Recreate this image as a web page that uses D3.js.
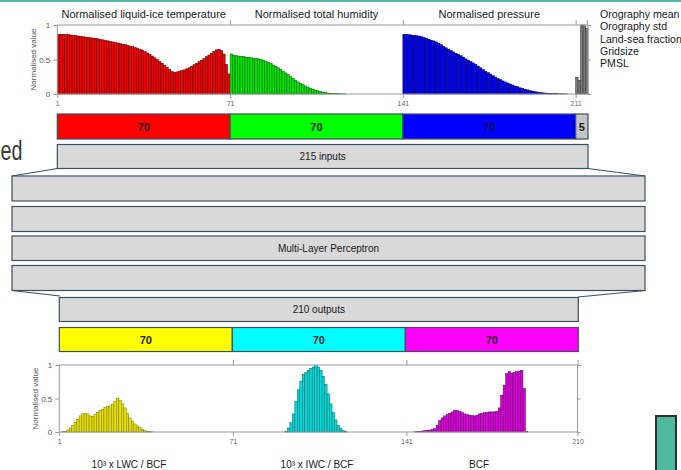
<!DOCTYPE html>
<html>
<head>
<meta charset="utf-8">
<script src="https://cdn.jsdelivr.net/npm/d3@7"></script>
<style>
  html, body { margin: 0; padding: 0; background: #ffffff; }
  svg { display: block; }
  text { font-family: "Liberation Sans", Arial, sans-serif; }
</style>
</head>
<body>
<svg id="fig" width="681" height="470"></svg>
<script>
// ---- Input features (index 1..215) ----
const inputTitles = ["Normalised liquid-ice temperature", "Normalised total humidity", "Normalised pressure"];
const extraInputNames = ["Orography mean", "Orography std", "Land-sea fraction", "Gridsize", "PMSL"];

const temperature = [
  0.865, 0.865, 0.864, 0.862, 0.86, 0.855, 0.85, 0.845, 0.84, 0.835,
  0.83, 0.825, 0.82, 0.815, 0.81, 0.805, 0.80, 0.79, 0.785, 0.775,
  0.77, 0.76, 0.755, 0.745, 0.74, 0.73, 0.72, 0.715, 0.705, 0.695,
  0.685, 0.675, 0.66, 0.65, 0.635, 0.615, 0.595, 0.575, 0.55, 0.525,
  0.50, 0.47, 0.445, 0.415, 0.385, 0.355, 0.325, 0.31, 0.32, 0.33,
  0.34, 0.35, 0.365, 0.38, 0.40, 0.425, 0.445, 0.47, 0.49, 0.515,
  0.54, 0.565, 0.59, 0.62, 0.64, 0.645, 0.63, 0.58, 0.43, 0.29
];
const humidity = [
  0.58, 0.565, 0.555, 0.55, 0.545, 0.54, 0.535, 0.53, 0.525, 0.52,
  0.515, 0.51, 0.50, 0.49, 0.475, 0.46, 0.44, 0.42, 0.40, 0.38,
  0.355, 0.33, 0.305, 0.28, 0.25, 0.225, 0.20, 0.175, 0.155, 0.135,
  0.115, 0.10, 0.085, 0.07, 0.058, 0.047, 0.037, 0.028, 0.021, 0.015,
  0.011, 0.008, 0.006, 0.004, 0.003, 0.002, 0.001, 0, 0, 0,
  0, 0, 0, 0, 0, 0, 0, 0, 0, 0,
  0, 0, 0, 0, 0, 0, 0, 0, 0, 0
];
const pressure = [
  0.865, 0.863, 0.86, 0.855, 0.85, 0.845, 0.84, 0.83, 0.82, 0.81,
  0.795, 0.78, 0.77, 0.755, 0.735, 0.715, 0.69, 0.67, 0.65, 0.63,
  0.61, 0.59, 0.575, 0.555, 0.535, 0.51, 0.49, 0.47, 0.45, 0.43,
  0.405, 0.38, 0.355, 0.33, 0.31, 0.29, 0.265, 0.245, 0.225, 0.21,
  0.19, 0.175, 0.16, 0.145, 0.13, 0.115, 0.105, 0.09, 0.08, 0.07,
  0.06, 0.05, 0.042, 0.035, 0.028, 0.023, 0.018, 0.015, 0.012, 0.009,
  0.007, 0.005, 0.004, 0.003, 0.002, 0.001, 0.001, 0, 0, 0
];
const surfaceInputs = [0.24, 0.20, 1.0, 1.0, 0.95];

const inputTicks = [1, 71, 141, 211];
const inputBlockSizes = [70, 70, 70, 5];

// ---- Output profiles (index 1..210) ----
const outputTitles = ["10³ x LWC / BCF", "10³ x IWC / BCF", "BCF"];
const liquidWater = [
  0, 0.005, 0.01, 0.03, 0.06, 0.10, 0.14, 0.19, 0.24, 0.27,
  0.28, 0.27, 0.24, 0.23, 0.26, 0.29, 0.32, 0.34, 0.37, 0.38,
  0.39, 0.41, 0.46, 0.50, 0.47, 0.42, 0.36, 0.28, 0.21, 0.16,
  0.12, 0.09, 0.07, 0.04, 0.02, 0.01, 0.005, 0.003, 0, 0,
  0, 0, 0, 0, 0, 0, 0, 0, 0, 0,
  0, 0, 0, 0, 0, 0, 0, 0, 0, 0,
  0, 0, 0, 0, 0, 0, 0, 0, 0, 0
];
const iceWater = [
  0, 0, 0, 0, 0, 0, 0, 0, 0, 0,
  0, 0, 0, 0, 0, 0, 0, 0, 0, 0,
  0, 0.01, 0.06, 0.14, 0.27, 0.46, 0.63, 0.76, 0.86, 0.89,
  0.92, 0.95, 0.97, 0.99, 0.97, 0.92, 0.83, 0.71, 0.57, 0.42,
  0.29, 0.18, 0.10, 0.05, 0.02, 0.005, 0, 0, 0, 0,
  0, 0, 0, 0, 0, 0, 0, 0, 0, 0,
  0, 0, 0, 0, 0, 0, 0, 0, 0, 0
];
const cloudFraction = [
  0, 0, 0, 0.003, 0.005, 0.01, 0.015, 0.02, 0.025, 0.03,
  0.035, 0.05, 0.10, 0.17, 0.21, 0.24, 0.26, 0.28, 0.30, 0.32,
  0.32, 0.31, 0.29, 0.27, 0.26, 0.25, 0.245, 0.24, 0.25, 0.27,
  0.28, 0.29, 0.29, 0.30, 0.30, 0.30, 0.31, 0.36, 0.55, 0.70,
  0.87, 0.90, 0.88, 0.89, 0.90, 0.91, 0.92, 0.65, 0.01, 0,
  0, 0, 0, 0, 0, 0, 0, 0, 0, 0,
  0, 0, 0, 0, 0, 0, 0, 0, 0, 0
];
const outputTicks = [1, 71, 141, 210];
const outputBlockSizes = [70, 70, 70];

const yTicks = [0, 0.5, 1];
const inputLabel = "215 inputs";
const hiddenLabel = "Multi-Layer Perceptron";
const outputLabel = "210 outputs";

// ---------------------------------------------------------------
const svg = d3.select("#fig");
const boxStroke = "#3f4f5f";
const boxFill = "#d9d9d9";

// slide decoration
svg.append("rect").attr("x", 0).attr("y", 0).attr("width", 681).attr("height", 2).attr("fill", "#55b9a2");
svg.append("text").attr("x", 0.5).attr("y", 160).attr("text-anchor", "start")
  .attr("font-size", 28).attr("fill", "#3a3a3a")
  .attr("textLength", 22).attr("lengthAdjust", "spacingAndGlyphs").text("ed");
svg.append("rect").attr("x", 656).attr("y", 416).attr("width", 20).attr("height", 60)
  .attr("fill", "#4fb89f").attr("stroke", "#2e2e2e").attr("stroke-width", 2);

// generic profile chart
function profileChart(opts) {
  const g = svg.append("g");
  const x = d3.scaleLinear().domain(opts.domain).range([opts.x0, opts.x1]);
  const y = d3.scaleLinear().domain([0, 1]).range([opts.yBottom, opts.yTop]);

  // bars
  opts.series.forEach(s => {
    g.append("g").selectAll("rect")
      .data(s.values.map((v, k) => ({ i: s.start + k, v })))
      .join("rect")
      .attr("x", d => x(d.i))
      .attr("width", d => x(d.i + 1) - x(d.i))
      .attr("y", d => y(d.v))
      .attr("height", d => y(0) - y(d.v))
      .attr("fill", s.fill)
      .attr("stroke", s.stroke)
      .attr("stroke-width", 0.5);
  });

  const axisColor = "#9a9a9a";
  // frame
  g.append("rect").attr("x", opts.x0).attr("y", opts.yTop)
    .attr("width", opts.x1 - opts.x0).attr("height", opts.yBottom - opts.yTop)
    .attr("fill", "none").attr("stroke", axisColor).attr("stroke-width", 1);

  const tickStyle = sel => {
    sel.select(".domain").remove();
    sel.selectAll("line").attr("stroke", axisColor);
    sel.selectAll("text").attr("fill", "#666").attr("font-size", 7)
      .attr("font-family", "DejaVu Serif, serif");
  };

  const bottomAxis = d3.axisBottom(x).tickValues(opts.ticks).tickFormat(d3.format("d")).tickSize(4).tickPadding(3);
  g.append("g").attr("transform", `translate(0,${opts.yBottom})`).call(bottomAxis).call(tickStyle);
  const topAxis = d3.axisTop(x).tickValues(opts.topTicks).tickFormat("").tickSize(5);
  g.append("g").attr("transform", `translate(0,${opts.yTop})`).call(topAxis).call(tickStyle);

  const leftAxis = d3.axisLeft(y).tickValues(yTicks).tickFormat(d => d === 0.5 ? "0.5" : d3.format("d")(d)).tickSize(4).tickPadding(3);
  g.append("g").attr("transform", `translate(${opts.x0},0)`).call(leftAxis).call(s => {
    tickStyle(s);
    s.selectAll("text").attr("font-size", 8).attr("font-family", "Liberation Sans, Arial, sans-serif").attr("fill", "#555");
  });
  const rightAxis = d3.axisRight(y).tickValues(yTicks).tickFormat("").tickSize(3);
  g.append("g").attr("transform", `translate(${opts.x1},0)`).call(rightAxis).call(tickStyle);

  g.append("text")
    .attr("transform", `translate(${opts.x0 - 21},${(opts.yTop + opts.yBottom) / 2}) rotate(-90)`)
    .attr("text-anchor", "middle").attr("font-size", 8).attr("fill", "#555")
    .text("Normalised value");
  return x;
}

// ---- input profile chart ----
const xIn = profileChart({
  domain: [1, 216], x0: 57.3, x1: 588, yTop: 25, yBottom: 94,
  ticks: inputTicks, topTicks: [71, 141, 211, 215.5],
  series: [
    { start: 1, values: temperature, fill: "#f00000", stroke: "#5a0000" },
    { start: 71, values: humidity, fill: "#00e600", stroke: "#005a00" },
    { start: 141, values: pressure, fill: "#0000f0", stroke: "#00005a" },
    { start: 211, values: surfaceInputs, fill: "#7a7a7a", stroke: "#2a2a2a" }
  ]
});

// titles above the input chart
const titleCentres = [1, 71, 141].map(s => (xIn(s) + xIn(s + 70)) / 2);
svg.append("g").selectAll("text").data(inputTitles).join("text")
  .attr("x", (d, k) => titleCentres[k]).attr("y", 18)
  .attr("text-anchor", "middle").attr("font-size", 11).attr("fill", "#1a1a1a")
  .text(d => d);
svg.append("g").selectAll("text").data(extraInputNames).join("text")
  .attr("x", 600).attr("y", (d, k) => 18 + k * 12.3)
  .attr("font-size", 10.6).attr("fill", "#1a1a1a")
  .text(d => d);

// ---- block strips ----
function blockStrip(x, start, sizes, colours, y0, h, labelColours) {
  let s = start;
  const blocks = sizes.map((n, k) => { const b = { a: s, b: s + n, n, c: colours[k], t: labelColours[k] }; s += n; return b; });
  const g = svg.append("g");
  g.selectAll("rect").data(blocks).join("rect")
    .attr("x", d => x(d.a)).attr("y", y0)
    .attr("width", d => x(d.b) - x(d.a)).attr("height", h)
    .attr("fill", d => d.c).attr("stroke", boxStroke).attr("stroke-width", 1.2);
  g.selectAll("text").data(blocks).join("text")
    .attr("x", d => (x(d.a) + x(d.b)) / 2).attr("y", y0 + h / 2 + 4)
    .attr("text-anchor", "middle").attr("font-size", 11).attr("font-weight", "bold")
    .attr("fill", d => d.t).text(d => d.n);
}
blockStrip(xIn, 1, inputBlockSizes, ["#ff0000", "#00ff00", "#0000ff", "#c4c4c4"], 114, 25,
  ["#1a1a1a", "#1a1a1a", "#101040", "#1a1a1a"]);

// ---- network boxes ----
function box(x0, y0, x1, y1, label) {
  svg.append("rect").attr("x", x0).attr("y", y0).attr("width", x1 - x0).attr("height", y1 - y0)
    .attr("fill", boxFill).attr("stroke", boxStroke).attr("stroke-width", 1.2);
  if (label) {
    svg.append("text").attr("x", (x0 + x1) / 2).attr("y", (y0 + y1) / 2 + 3.5)
      .attr("text-anchor", "middle").attr("font-size", 10).attr("fill", "#1a1a1a").text(label);
  }
}
function connector(pts) {
  svg.append("path").attr("d", d3.line()(pts)).attr("fill", "none")
    .attr("stroke", boxStroke).attr("stroke-width", 1.1);
}

box(57.3, 144.5, 588, 168.5, inputLabel);
connector([[57.3, 168.5], [12, 176]]);
connector([[588, 168.5], [645, 176]]);
const hiddenRows = [[176, 201], [206.5, 231.5], [236, 260.5], [265.5, 290.5]];
hiddenRows.forEach((r, k) => box(12, r[0], 645, r[1], k === 2 ? hiddenLabel : null));
connector([[12, 290.5], [60, 296]]);
connector([[645, 290.5], [578, 297]]);
box(59.3, 297.5, 578.3, 321.5, outputLabel);

// ---- output chart ----
const xOut = d3.scaleLinear().domain([1, 211]).range([59.3, 578.3]);
blockStrip(xOut, 1, outputBlockSizes, ["#ffff00", "#00ffff", "#ff00ff"], 327.5, 24,
  ["#1a1a1a", "#1a1a1a", "#1a1a1a"]);

profileChart({
  domain: [1, 210], x0: 59.3, x1: 577.5, yTop: 365, yBottom: 432,
  ticks: outputTicks, topTicks: [71, 141, 210],
  series: [
    { start: 1, values: liquidWater, fill: "#e6e000", stroke: "#7a7600" },
    { start: 71, values: iceWater, fill: "#00dcdc", stroke: "#006060" },
    { start: 141, values: cloudFraction, fill: "#d800d8", stroke: "#600060" }
  ]
});

// titles below the output chart
const outCentres = [129, 317, 479];
svg.append("g").selectAll("text").data(outputTitles).join("text")
  .attr("x", (d, k) => outCentres[k]).attr("y", 468)
  .attr("text-anchor", "middle").attr("font-size", 10).attr("fill", "#1a1a1a")
  .text(d => d);
</script>
</body>
</html>
